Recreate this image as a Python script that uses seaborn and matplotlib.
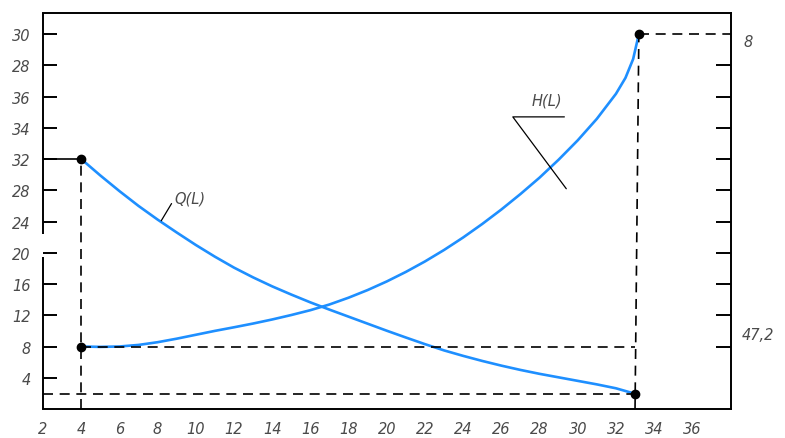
import numpy as np
import pandas as pd
import seaborn as sns
import matplotlib.pyplot as plt

sns.set_style("white")
plt.rcParams['font.family'] = ['DejaVu Sans']

# values
q_x = [4, 5, 6, 7, 8, 9, 10, 11, 12, 13, 14, 15, 16, 17, 18, 19, 20, 21, 22,
       23, 24, 25, 26, 27, 28, 29, 30, 31, 32, 33.0]
q_y = [32.0, 29.9, 27.9, 26.0, 24.25, 22.6, 21.0, 19.5, 18.1, 16.85, 15.7, 14.65,
       13.65, 12.72, 11.82, 10.92, 10.02, 9.15, 8.3, 7.5, 6.8, 6.15, 5.55, 5.0,
       4.5, 4.05, 3.6, 3.15, 2.65, 1.95]

h_x = [4, 5, 6, 7, 8, 9, 10, 11, 12, 13, 14, 15, 16, 17, 18, 19, 20, 21, 22,
       23, 24, 25, 26, 27, 28, 29, 30, 31, 32, 32.5, 32.9, 33.2]
h_y = [8.0, 7.95, 8.0, 8.2, 8.55, 9.0, 9.5, 10.0, 10.46, 10.94, 11.46, 12.03,
       12.65, 13.38, 14.25, 15.23, 16.33, 17.55, 18.89, 20.36, 21.96, 23.69,
       25.54, 27.52, 29.62, 31.92, 34.4, 37.15, 40.35, 42.4, 44.8, 48.0]

x_ticks = list(range(2, 37, 2))
y_ticks = [4, 8, 12, 16, 20, 24, 28, 32, 36, 40, 44, 48]
y_labels = ['4', '8', '12', '16', '20', '24', '28', '32', '34', '36', '28', '30']
right_ticks = [8, 12, 16, 20, 24, 28, 32, 36, 40, 44]

df = pd.concat([
    pd.DataFrame({'L': q_x, 'v': q_y, 'curve': 'Q(L)'}),
    pd.DataFrame({'L': h_x, 'v': h_y, 'curve': 'H(L)'}),
])

txt = dict(color='#4a4a4a', fontstyle='italic', fontsize=10.5)
blue = '#1e8fff'

fig = plt.figure(figsize=(7.85, 4.39), dpi=100)
ax = fig.add_axes([0.0548, 0.0661, 0.8758, 0.902])

sns.lineplot(data=df, x='L', y='v', units='curve', estimator=None, sort=False,
             color=blue, lw=1.9, ax=ax, legend=False)

dash = dict(color='black', lw=1.2, dashes=(6, 4))
ax.plot([2, 33.0], [1.95, 1.95], **dash)
ax.plot([4, 4], [0, 32], **dash)
ax.plot([4, 33.0], [8, 8], **dash)
ax.plot([33.0, 33.2], [0, 48], **dash)
ax.plot([33.2, 38], [48, 48], **dash)
ax.plot([2, 4], [32, 32], color='black', lw=1.2)

ax.plot([4, 4, 33.0, 33.2], [32, 8, 1.95, 48], 'o', color='black', ms=6, zorder=5)

# leaders
ax.plot([8.19, 8.73], [24.1, 26.3], color='black', lw=0.9)
ax.text(9.7, 27.0, 'Q(L)', ha='center', va='center', **txt)
ax.plot([29.3, 26.6, 29.4], [37.4, 37.4, 28.2], color='black', lw=0.9)
ax.text(28.4, 39.6, 'H(L)', ha='center', va='center', **txt)

ax.set_xlim(2, 38)
ax.set_ylim(0, 50.7)
ax.set_xlabel('')
ax.set_ylabel('')

ax.set_xticks(x_ticks)
ax.set_xticklabels([str(v) for v in x_ticks], **txt)
ax.set_yticks(y_ticks)
ax.set_yticklabels(y_labels, **txt)
ax.tick_params(axis='x', direction='in', length=4, width=1.2, pad=9, color='black')
ax.tick_params(axis='y', direction='in', length=10, width=1.4, pad=9, color='black')
ax.yaxis.get_major_ticks()[-1].tick1line.set_visible(False)
ax.xaxis.get_major_ticks()[0].tick1line.set_visible(False)

for s in ['top', 'right', 'bottom']:
    ax.spines[s].set_color('black')
    ax.spines[s].set_linewidth(1.4)
ax.spines['left'].set_visible(False)
ax.plot([2, 2], [0, 19.4], color='black', lw=1.4, clip_on=False, solid_capstyle='butt')
ax.plot([2, 2], [22.4, 50.7], color='black', lw=1.4, clip_on=False, solid_capstyle='butt')

ax2 = ax.twinx()
ax2.set_ylim(0, 50.7)
ax2.set_yticks(right_ticks)
ax2.set_yticklabels([])
ax2.tick_params(axis='y', direction='in', length=11, width=1.4, color='black')
for s in ax2.spines.values():
    s.set_visible(False)

ax.text(38.7, 47.1, '8', ha='left', va='center', clip_on=False, **txt)
ax.text(38.6, 9.6, '47,2', ha='left', va='center', clip_on=False, **txt)

fig.savefig('out.png', dpi=100)
